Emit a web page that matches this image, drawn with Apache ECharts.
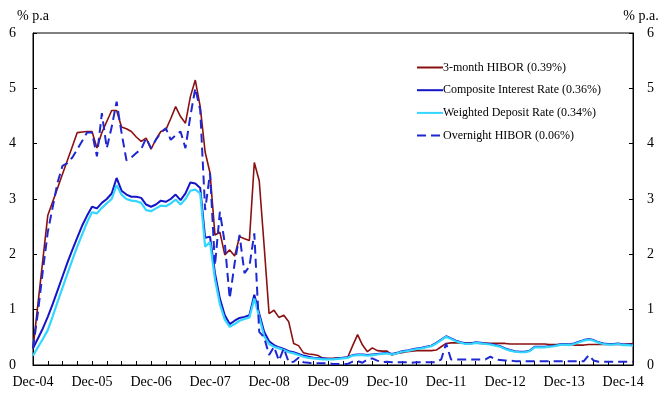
<!DOCTYPE html>
<html>
<head>
<meta charset="utf-8">
<script src="https://cdn.jsdelivr.net/npm/echarts@6/dist/echarts.min.js"></script>
<style>
  html, body { margin: 0; padding: 0; background: #fff; }
  #chart { width: 665px; height: 399px; }
</style>
</head>
<body>
<div id="chart"></div>
<script>
// monthly, Dec-04 .. Feb-15
const monthNames = ['Jan', 'Feb', 'Mar', 'Apr', 'May', 'Jun', 'Jul', 'Aug', 'Sep', 'Oct', 'Nov', 'Dec']
const categories = []
for (let i = 0; i < 123; i++) {
  const m = (11 + i) % 12
  const y = 4 + Math.floor((11 + i) / 12)
  categories.push(monthNames[m] + '-' + String(y).padStart(2, '0'))
}

const seriesNames = [
  '3-month HIBOR (0.39%)',
  'Composite Interest Rate (0.36%)',
  'Weighted Deposit Rate (0.34%)',
  'Overnight HIBOR (0.06%)',
]

const hibor3m = [
  0.3, 1.1, 1.9, 2.7, 2.95, 3.2, 3.45, 3.7, 3.95, 4.2, 4.21, 4.22,
  4.22, 3.92, 4.2, 4.4, 4.6, 4.6, 4.3, 4.27, 4.22, 4.12, 4.04, 4.1,
  3.9, 4.08, 4.22, 4.25, 4.45, 4.67, 4.49, 4.37, 4.85, 5.15, 4.67, 3.85,
  3.47, 2.35, 2.4, 1.99, 2.08, 1.97, 2.32, 2.28, 2.25, 3.66, 3.33, 2.15,
  0.93, 0.99, 0.86, 0.9, 0.78, 0.39, 0.35, 0.22, 0.2, 0.19, 0.17, 0.12,
  0.12, 0.12, 0.13, 0.13, 0.14, 0.35, 0.55, 0.36, 0.24, 0.31, 0.26, 0.25,
  0.25, 0.18, 0.21, 0.22, 0.24, 0.25, 0.26, 0.26, 0.26, 0.26, 0.27, 0.33,
  0.39, 0.4, 0.4, 0.4, 0.4, 0.4, 0.4, 0.39, 0.39, 0.39, 0.39, 0.39,
  0.39, 0.38, 0.38, 0.38, 0.38, 0.38, 0.38, 0.38, 0.38, 0.37, 0.37, 0.37,
  0.37, 0.37, 0.36, 0.36, 0.36, 0.37, 0.37, 0.37, 0.37, 0.37, 0.37, 0.37,
  0.37, 0.38, 0.39,
]

const composite = [
  0.3, 0.48, 0.66, 0.87, 1.1, 1.35, 1.6, 1.85, 2.08, 2.3, 2.52, 2.7,
  2.86, 2.83, 2.93, 3.0, 3.1, 3.38, 3.15, 3.08, 3.04, 3.04, 3.02, 2.9,
  2.86, 2.9, 2.97, 2.95, 3.0, 3.08, 2.98, 3.1, 3.3, 3.28, 3.2, 2.3,
  2.32, 1.66, 1.2, 0.9, 0.74, 0.8, 0.85, 0.87, 0.9, 1.27, 0.93, 0.6,
  0.43, 0.36, 0.32, 0.29, 0.25, 0.23, 0.2, 0.17, 0.15, 0.13, 0.12, 0.12,
  0.11, 0.11, 0.12, 0.13, 0.14, 0.18, 0.19, 0.19, 0.18, 0.19, 0.2, 0.21,
  0.22, 0.2, 0.22, 0.25, 0.26, 0.28, 0.3, 0.31, 0.33, 0.35, 0.4, 0.46,
  0.52, 0.48, 0.44, 0.41, 0.39, 0.39, 0.41, 0.4, 0.39, 0.38, 0.36, 0.34,
  0.3, 0.27, 0.25, 0.24, 0.24, 0.26, 0.33, 0.33, 0.33, 0.34, 0.35, 0.37,
  0.38, 0.37, 0.39, 0.42, 0.45, 0.47, 0.45, 0.41, 0.39, 0.38, 0.38, 0.39,
  0.37, 0.37, 0.36,
]

const weightedDeposit = [
  0.17, 0.32, 0.47, 0.63, 0.88, 1.14, 1.4, 1.65, 1.9, 2.14, 2.36, 2.58,
  2.76, 2.74, 2.84, 2.92, 3.0, 3.25, 3.08, 3.0, 2.97, 2.96, 2.93, 2.8,
  2.78, 2.83, 2.88, 2.87, 2.92, 2.99, 2.9, 3.0, 3.15, 3.17, 3.1, 2.14,
  2.22, 1.55, 1.1, 0.82, 0.69, 0.74, 0.8, 0.83, 0.86, 1.2, 0.87, 0.52,
  0.38, 0.33, 0.3, 0.27, 0.23, 0.21, 0.18, 0.15, 0.13, 0.12, 0.11, 0.1,
  0.1, 0.1, 0.11, 0.12, 0.13, 0.17, 0.18, 0.18, 0.17, 0.18, 0.19, 0.2,
  0.21, 0.19, 0.21, 0.24, 0.25, 0.27, 0.29, 0.3, 0.32, 0.34, 0.39, 0.45,
  0.51, 0.47, 0.43, 0.4, 0.38, 0.38, 0.4, 0.39, 0.38, 0.37, 0.35, 0.33,
  0.29, 0.26, 0.24, 0.23, 0.23, 0.25, 0.32, 0.32, 0.32, 0.33, 0.34, 0.36,
  0.37, 0.36, 0.38, 0.41, 0.44, 0.46, 0.44, 0.4, 0.38, 0.37, 0.37, 0.38,
  0.36, 0.36, 0.35,
]

const overnight = [
  0.3, 0.95, 1.7, 2.4, 2.85, 3.3, 3.6, 3.65, 3.75, 3.9, 4.05, 4.2,
  4.2, 3.77, 4.55, 3.92, 4.3, 4.76, 4.2, 3.7, 3.75, 3.83, 3.9, 4.1,
  3.92, 4.07, 4.2, 4.28, 4.07, 4.15, 4.22, 3.92, 4.5, 5.0, 4.61, 2.8,
  3.47, 1.8, 2.77, 2.2, 1.2, 1.84, 2.35, 1.66, 1.78, 2.38, 0.6, 0.5,
  0.18, 0.33, 0.08, 0.3, 0.05, 0.06, 0.13, 0.05, 0.04, 0.03, 0.03, 0.03,
  0.03, 0.02, 0.02, 0.02, 0.02, 0.06, 0.07, 0.04, 0.1, 0.12, 0.08, 0.05,
  0.06, 0.05, 0.05, 0.05, 0.05, 0.04, 0.05, 0.05, 0.05, 0.05, 0.05, 0.1,
  0.39, 0.1, 0.1, 0.1, 0.1, 0.1, 0.1, 0.1, 0.1, 0.15, 0.1, 0.09,
  0.08, 0.08, 0.07, 0.07, 0.07, 0.07, 0.07, 0.07, 0.07, 0.07, 0.07, 0.07,
  0.07, 0.07, 0.07, 0.07, 0.07, 0.18, 0.08, 0.06, 0.06, 0.06, 0.06, 0.06,
  0.06, 0.06, 0.06,
]

const yTicks = [0, 1, 2, 3, 4, 5, 6]

const font = '"Liberation Serif", "Times New Roman", serif'

const chart = echarts.init(document.getElementById('chart'), null, { renderer: 'canvas' })

const yAxisBase = (pos) => ({
  type: 'value',
  position: pos,
  min: yTicks[0],
  max: yTicks[yTicks.length - 1],
  interval: 1,
  name: pos === 'left' ? '% p.a' : '% p.a.',
  nameLocation: 'end',
  nameGap: 10,
  nameTextStyle: {
    color: '#000',
    fontFamily: font,
    fontSize: 14,
    padding: pos === 'left' ? [0, 0, 0, 0] : [0, 0, 0, 16],
  },
  axisLine: { show: true, lineStyle: { color: '#000', width: 1 } },
  axisTick: { show: true, inside: true, length: 4, lineStyle: { color: '#000' } },
  axisLabel: {
    color: '#000',
    fontFamily: font,
    fontSize: 14,
    margin: pos === 'left' ? 17 : 14,
  },
  splitLine: { show: false },
})

chart.setOption({
  animation: false,
  backgroundColor: '#fff',
  grid: {
    left: 33,
    right: 32,
    top: 33,
    bottom: 34,
    show: true,
    borderColor: '#000',
    borderWidth: 1,
  },
  legend: {
    orient: 'vertical',
    left: 411,
    top: 56.5,
    itemWidth: 26,
    itemHeight: 14,
    itemGap: 10.7,
    data: seriesNames,
    itemStyle: { opacity: 0 },
    textStyle: {
      color: '#000',
      fontFamily: font,
      fontSize: 12,
      padding: [0, 0, 0, -5],
    },
  },
  xAxis: {
    type: 'category',
    data: categories,
    boundaryGap: false,
    axisLine: { lineStyle: { color: '#000', width: 1 } },
    axisTick: {
      show: true,
      inside: true,
      length: 4,
      interval: (i) => i % 3 === 0,
      lineStyle: { color: '#000' },
    },
    axisLabel: {
      color: '#000',
      fontFamily: font,
      fontSize: 14,
      margin: 10,
      interval: (i) => i % 12 === 0,
    },
    splitLine: { show: false },
  },
  yAxis: [yAxisBase('left'), yAxisBase('right')],
  series: [
    {
      name: seriesNames[0],
      type: 'line',
      data: hibor3m,
      symbol: 'none',
      lineStyle: { color: '#8b1010', width: 1.6 },
      itemStyle: { color: '#8b1010' },
    },
    {
      name: seriesNames[1],
      type: 'line',
      data: composite,
      symbol: 'none',
      lineStyle: { color: '#1414c8', width: 2 },
      itemStyle: { color: '#1414c8' },
    },
    {
      name: seriesNames[2],
      type: 'line',
      data: weightedDeposit,
      symbol: 'none',
      lineStyle: { color: '#33d6ff', width: 2.2 },
      itemStyle: { color: '#33d6ff' },
    },
    {
      name: seriesNames[3],
      type: 'line',
      data: overnight,
      symbol: 'none',
      lineStyle: { color: '#1e28d2', width: 2, type: [9, 5] },
      itemStyle: { color: '#1e28d2' },
    },
  ],
})
</script>
</body>
</html>
